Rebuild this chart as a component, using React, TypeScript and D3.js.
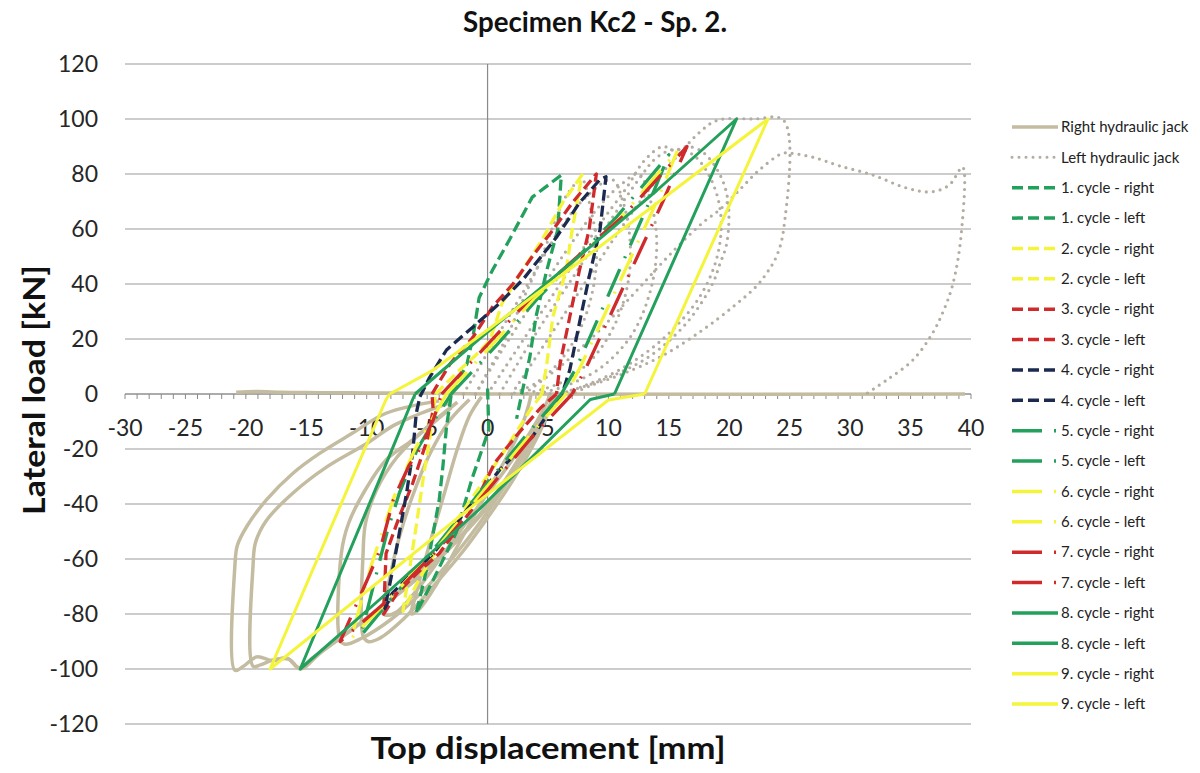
import React from 'react';
import * as d3 from 'd3';

type P = [number, number];

const xTicks = [-30, -25, -20, -15, -10, -5, 0, 5, 10, 15, 20, 25, 30, 35, 40];
const yTicks = [-120, -100, -80, -60, -40, -20, 0, 20, 40, 60, 80, 100, 120];

// Right hydraulic jack (tan, solid)
const rightJackBase: P[] = [[-20.8, 0.6], [-19, 0.9], [-17, 0.6], [-14, 0.5], [-10, 0.4], [-6, 0.3], [0, 0], [39.5, 0]];
const rightJackLoops: P[][] = [
  [[-0.5, -1], [-1.5, -8], [-2.5, -20], [-3.5, -35], [-4.5, -50], [-5.4, -64], [-6, -74], [-6.3, -80], [-5.6, -78], [-4.2, -69], [-2.7, -57], [-1.2, -45], [0.3, -33], [1.7, -22], [2.8, -12], [3.4, -4], [3.6, 0]],
  [[-1.5, -2], [-3.2, -10], [-4.8, -22], [-6.2, -37], [-7.3, -52], [-8.1, -67], [-8.6, -80], [-7.6, -79.5], [-5.8, -71], [-3.8, -59], [-1.8, -47], [0.2, -35], [2.2, -23], [3.8, -12], [4.8, -4], [5.2, 0]],
  [[-2.5, -3], [-5, -12], [-7.5, -23], [-9.2, -35], [-10.1, -47], [-10.3, -58], [-10.3, -88], [-9.9, -90], [-9, -89], [-7, -82], [-4.5, -70], [-2, -57], [0, -45], [2, -32], [3.6, -20], [4.8, -9], [5.5, 0]],
  [[-3, -5], [-6.2, -16.7], [-8.4, -24], [-10, -34], [-11.5, -47], [-12.1, -58], [-12.2, -89.5], [-11.8, -91], [-10.5, -89], [-8, -82], [-5.2, -71], [-2.6, -58], [-0.5, -46], [1.5, -33], [3.2, -21], [4.5, -10], [5.6, 0]],
  [[-3, -3], [-5.5, -7], [-7.8, -11.5], [-10, -18], [-13.3, -26.5], [-16.1, -36], [-18.3, -46], [-19.2, -54], [-19.4, -62], [-19.4, -99], [-18.8, -98.5], [-17.6, -96.5], [-16.4, -96.5], [-15.6, -99.5], [-14.5, -96], [-12, -88], [-9, -78], [-6, -67], [-3, -55], [-0.5, -43], [1.5, -31], [3.2, -19], [4.6, -8], [5.8, 0]],
  [[-4, -2.5], [-8.4, -7], [-11.2, -14.3], [-13.9, -21.6], [-16.1, -28.8], [-18.3, -38.5], [-19.9, -48], [-20.7, -55], [-20.9, -62], [-20.9, -100.5], [-20.2, -99], [-19.1, -95.6], [-17.8, -97], [-16.6, -96], [-15.5, -100], [-13.8, -94], [-11, -85], [-8, -75], [-5, -64], [-2, -51], [0.2, -40], [2.2, -27], [3.9, -15], [5.2, -5], [6.2, 0]],
];

// Left hydraulic jack (grey, dotted)
const leftJackLoops: P[][] = [
  [[-1, 0], [0, 8], [1.5, 20], [3, 35], [4.5, 50], [5.5, 62], [6.5, 72], [7.8, 78], [8.5, 68], [9, 55], [8.8, 40], [7.8, 25], [6, 12], [4, 4], [2, 0]],
  [[-2, 0], [0, 15], [2, 30], [4, 45], [6, 60], [8, 71], [10.3, 78], [11.2, 70], [11.8, 55], [11.6, 40], [10.5, 25], [8.5, 12], [6, 4], [3, 0]],
  [[-1, 0], [1.5, 18], [4, 35], [6.5, 52], [9, 67], [11, 76], [12.5, 80], [13.5, 70], [14, 55], [13.5, 38], [12, 22], [9.5, 10], [6.5, 3], [4, 0]],
  [[0, 0], [3, 20], [6, 40], [9, 60], [11.5, 75], [13, 85], [14.5, 90], [15.5, 88.5], [16.5, 90], [17.8, 88], [19.2, 80], [19.9, 70], [19.8, 55], [19.2, 47], [18.6, 40], [16.5, 26], [13.5, 14], [10, 6], [7, 1.5], [5, 0]],
  [[1, 0], [4, 22], [7, 42], [10, 62], [12.5, 78], [14, 86], [15.5, 89], [17, 87], [18.5, 78], [19.3, 65], [19, 50], [17.5, 35], [14.5, 20], [11, 9], [8, 3], [6, 0]],
  [[2, 0], [5, 20], [8, 40], [11, 60], [14, 78], [16, 88], [17.5, 95], [19, 99.5], [22, 100], [24.5, 99.5], [24.5, 60], [23.9, 50], [23.1, 44], [22.2, 39], [20.3, 31.7], [17.8, 23.3], [14.5, 14], [11, 7], [8.5, 3], [7, 0]],
  [[3, 0], [6, 10], [9, 22], [12, 36], [14.5, 48], [16.5, 57], [18, 63], [19.2, 67], [20.8, 74], [22.5, 81.5], [24.4, 87.5], [25.2, 87.5], [27, 86], [29.1, 83], [31.9, 79.6], [34.6, 75], [36.7, 73.5], [38.2, 76], [39.3, 82.5], [39.2, 58.5], [38.5, 40], [37.7, 30], [36.8, 22], [35.2, 12.4], [33, 5], [31.3, 0]],
];

// Cycles
const cycle1Right: P[] = [[-3, 0], [-1.7, 11], [-1.2, 21], [-0.7, 35], [0.4, 45], [1.8, 56], [3.7, 71.6], [6.1, 79.6], [5.8, 59.6], [4.9, 45], [4, 28], [3.5, 13.5], [2.9, 1.5], [2.4, -9]];
const cycle1Left: P[] = [[0, 2], [0.1, -13], [-1.3, -31], [-2.6, -50.5], [-4.5, -67.6], [-5.9, -79.6], [-5, -63], [-4.5, -50.5], [-4, -38.5], [-3.7, -26.5], [-3.4, -12], [-3, 0]];
const cycle2Right: P[] = [[-4.3, 0], [-2.5, 8], [-1, 14], [0.2, 19.6], [1.2, 33], [2.9, 45], [4.5, 56], [6.2, 69.5], [7.8, 79.6], [7, 59.6], [6.5, 45], [5.4, 28], [4.9, 11], [4.5, 0]];
const cycle2Left: P[] = [[4.5, 0], [3.5, -6], [1.2, -22], [-1, -36], [-3.5, -52], [-5.5, -66], [-7, -79], [-6.5, -65], [-5.8, -45], [-5.3, -30], [-4.8, -16.7], [-4.5, -6], [-4.3, 0]];
const cycle3Right: P[] = [[-4.6, 0], [-3.1, 11], [-1.2, 20.7], [0.4, 31.6], [2.1, 40], [3.7, 50], [5.4, 59.6], [7, 69.5], [9, 80], [8.4, 59.6], [7.6, 45], [6.8, 28], [6, 11], [5.7, 0]];
const cycle3Left: P[] = [[5.7, 0], [4.4, -5], [2.3, -15.6], [0.6, -25], [-1.3, -42], [-4, -58], [-5.8, -65], [-7.5, -72.5], [-8.6, -80], [-8.4, -58], [-7.3, -44.6], [-6.2, -32.5], [-5, -16.7], [-4.5, -5.8], [-4.6, 0]];
const cycle4Right: P[] = [[-5.6, -1], [-4.8, 6], [-3.4, 16], [-1.2, 24.4], [1, 33], [3, 42], [5.7, 57], [7.6, 69.5], [9.3, 78], [9.8, 79], [9.3, 59.6], [8.4, 42.5], [7.6, 25.8], [6.8, 8.7], [6.2, 0.4]];
const cycle4Left: P[] = [[6.2, 0.4], [5.5, -4], [3.7, -15.6], [1, -27.6], [-1.7, -42], [-4.5, -58], [-6.2, -65], [-7.9, -72.5], [-8.5, -78], [-7.9, -65], [-7.3, -50.5], [-6.7, -36], [-6.2, -21.6], [-5.9, -7], [-5.6, -1]];
const cycle5Right: P[] = [[-3, 0], [0.8, 18], [4.2, 35], [10.6, 64], [15, 87], [13.4, 70], [11.4, 50], [9.4, 30], [7.4, 10], [6.1, 0]];
const cycle5Left: P[] = [[6.1, 0], [3, -16], [-0.5, -35], [-4, -54], [-7.5, -72], [-10.5, -88], [-9, -62], [-8.3, -50], [-7.3, -36], [-5.8, -20], [-4.2, -8], [-3, 0]];
const cycle6Right: P[] = [[-3.4, 0], [0.4, 18], [3.9, 35], [11, 64], [15.7, 88.5], [14, 70], [11.9, 50], [9.8, 30], [7.7, 10], [6.5, 0]];
const cycle6Left: P[] = [[6.5, 0], [3.3, -16], [-0.3, -35], [-4, -55], [-7.8, -73], [-11.3, -89], [-9.6, -62], [-8.7, -50], [-7.7, -37], [-6, -20], [-4.5, -8.5], [-3.4, 0]];
const cycle7Right: P[] = [[-3.8, 0], [0, 18], [3.6, 35], [11.3, 65], [16.5, 90], [14.5, 70], [12.4, 50], [10.3, 30], [8.2, 10], [7, 0]];
const cycle7Left: P[] = [[7, 0], [3.6, -16], [0, -35], [-4, -56], [-8, -74], [-12.2, -90], [-9.8, -66], [-8.9, -56.7], [-7.8, -38.5], [-6.5, -26], [-5.6, -20], [-4.5, -9.5], [-3.8, 0]];
const cycle8Right: P[] = [[-6, 0], [-0.7, 20], [7, 48], [14, 74], [20.6, 100], [10.5, 0]];
const cycle8Left: P[] = [[10.5, 0], [8.5, -2], [-0.7, -42], [-9, -75], [-15.5, -100], [-8.5, -26.5], [-6.2, -2], [-6, 0]];
const cycle9Right: P[] = [[-8.1, 0], [-4.5, 8.7], [7.6, 48], [23.2, 100], [13, 0]];
const cycle9Left: P[] = [[13, 0], [10, -2.2], [-0.6, -38.5], [-18, -100], [-8.4, -2], [-8.1, 0]];

const seriesNames = [
  'Right hydraulic jack', 'Left hydraulic jack',
  '1. cycle - right', '1. cycle - left', '2. cycle - right', '2. cycle - left',
  '3. cycle - right', '3. cycle - left', '4. cycle - right', '4. cycle - left',
  '5. cycle - right', '5. cycle - left', '6. cycle - right', '6. cycle - left',
  '7. cycle - right', '7. cycle - left', '8. cycle - right', '8. cycle - left',
  '9. cycle - right', '9. cycle - left',
];

const seriesData: P[][][] = [
  [rightJackBase, ...rightJackLoops], leftJackLoops,
  [cycle1Right], [cycle1Left], [cycle2Right], [cycle2Left],
  [cycle3Right], [cycle3Left], [cycle4Right], [cycle4Left],
  [cycle5Right], [cycle5Left], [cycle6Right], [cycle6Left],
  [cycle7Right], [cycle7Left], [cycle8Right], [cycle8Left],
  [cycle9Right], [cycle9Left],
];

const TAN = '#c4bca0';
const GREY = '#b3aca0';
const GREEN = '#22a05c';
const YELLOW = '#f4f43a';
const RED = '#cf2a2c';
const NAVY = '#1b2a4e';

type Kind = 'solid' | 'dotted' | 'dash' | 'dashdot';
const seriesStyles: { color: string; kind: Kind; smooth?: boolean; width: number }[] = [
  { color: TAN, kind: 'solid', smooth: true, width: 3.5 },
  { color: GREY, kind: 'dotted', smooth: true, width: 3.2 },
  { color: GREEN, kind: 'dash', width: 3.3 }, { color: GREEN, kind: 'dash', width: 3.3 },
  { color: YELLOW, kind: 'dash', width: 3.3 }, { color: YELLOW, kind: 'dash', width: 3.3 },
  { color: RED, kind: 'dash', width: 3.3 }, { color: RED, kind: 'dash', width: 3.3 },
  { color: NAVY, kind: 'dash', width: 3.3 }, { color: NAVY, kind: 'dash', width: 3.3 },
  { color: GREEN, kind: 'dashdot', width: 3.3 }, { color: GREEN, kind: 'dashdot', width: 3.3 },
  { color: YELLOW, kind: 'dashdot', width: 3.3 }, { color: YELLOW, kind: 'dashdot', width: 3.3 },
  { color: RED, kind: 'dashdot', width: 3.3 }, { color: RED, kind: 'dashdot', width: 3.3 },
  { color: GREEN, kind: 'solid', width: 3 }, { color: GREEN, kind: 'solid', width: 3 },
  { color: YELLOW, kind: 'solid', width: 3 }, { color: YELLOW, kind: 'solid', width: 3 },
];

const dashOf = (k: Kind) =>
  k === 'dash' ? '11 5' : k === 'dashdot' ? '30 12 2 12' : k === 'dotted' ? '0 7' : undefined;

const FONT = 'Lato, "Open Sans", sans-serif';

export default function App() {
  const x = d3.scaleLinear().domain([-30, 40]).range([125, 971]);
  const y = d3.scaleLinear().domain([-120, 120]).range([724, 64]);
  const lin = d3.line<P>().x(d => x(d[0])).y(d => y(d[1]));
  const smooth = d3.line<P>().x(d => x(d[0])).y(d => y(d[1])).curve(d3.curveCatmullRom.alpha(0.5));
  const minor = d3.range(-30, 41, 1);

  const legendY0 = 127;
  const legendStep = 30.37;

  return (
    <svg width={1200} height={773} style={{ position: 'absolute', left: 0, top: 0, background: '#fff' }} fontFamily={FONT}>
      <rect x={0} y={0} width={1200} height={773} fill="#fff" />
      {/* grid */}
      {yTicks.map(t => (
        <line key={'g' + t} x1={x(-30)} x2={x(40)} y1={y(t)} y2={y(t)} stroke="#9a9a9a" strokeWidth={1.2} />
      ))}
      {/* y axis */}
      <line x1={x(0)} x2={x(0)} y1={y(120)} y2={y(-120)} stroke="#8a8a8a" strokeWidth={1.2} />
      {/* x axis */}
      <line x1={x(-30)} x2={x(40)} y1={y(0)} y2={y(0)} stroke="#8a8a8a" strokeWidth={1.2} />
      {minor.map(t => (
        <line key={'m' + t} x1={x(t)} x2={x(t)} y1={y(0)} y2={y(0) + 5} stroke="#8a8a8a" strokeWidth={1} />
      ))}
      {/* y labels */}
      {yTicks.map(t => (
        <text key={'yl' + t} x={98} y={y(t)} dy="0.36em" textAnchor="end" fontSize={23} fill="#262626">{t}</text>
      ))}
      {/* x labels */}
      {xTicks.map(t => (
        <text key={'xl' + t} x={x(t)} y={428} dy="0.36em" textAnchor="middle" fontSize={23} fill="#262626">{t}</text>
      ))}
      {/* series */}
      {seriesData.map((polys, i) => {
        const st = seriesStyles[i];
        const gen = st.smooth ? smooth : lin;
        return (
          <g key={'s' + i}>
            {polys.map((pl, j) => (
              <path key={j} d={gen(pl) || ''} fill="none" stroke={st.color} strokeWidth={st.width}
                strokeDasharray={dashOf(st.kind)} strokeLinecap={st.kind === 'dotted' ? 'round' : 'butt'}
                strokeLinejoin="round" />
            ))}
          </g>
        );
      })}
      {/* title */}
      <text x={595} y={32} textAnchor="middle" fontSize={28} fontWeight="bold" fill="#111"
        textLength={264} lengthAdjust="spacingAndGlyphs">Specimen Kc2 - Sp. 2.</text>
      {/* axis titles */}
      <text x={548} y={759} textAnchor="middle" fontSize={31} fontWeight="bold" fill="#111"
        textLength={355} lengthAdjust="spacingAndGlyphs">Top displacement [mm]</text>
      <text transform="translate(45,390) rotate(-90)" textAnchor="middle" fontSize={31} fontWeight="bold" fill="#111"
        textLength={250} lengthAdjust="spacingAndGlyphs">Lateral load [kN]</text>
      {/* legend */}
      {seriesNames.map((n, i) => {
        const st = seriesStyles[i];
        const ly = legendY0 + i * legendStep;
        return (
          <g key={'lg' + i}>
            <line x1={1012} x2={1058} y1={ly} y2={ly} stroke={st.color} strokeWidth={st.kind === 'dotted' ? 3 : 3.5}
              strokeDasharray={dashOf(st.kind)} strokeLinecap={st.kind === 'dotted' ? 'round' : 'butt'} />
            <text x={1061} y={ly} dy="0.35em" fontSize={15} fill="#222">{n}</text>
          </g>
        );
      })}
    </svg>
  );
}
